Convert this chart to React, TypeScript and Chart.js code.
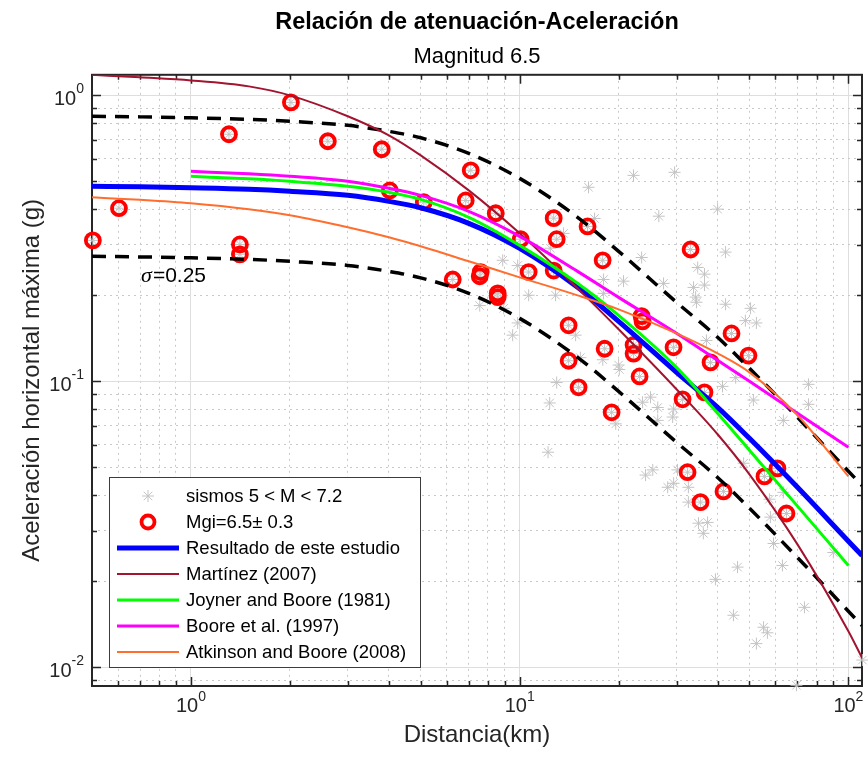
import React, { useEffect, useRef } from "react";
import { Chart, registerables } from "chart.js";

Chart.register(...registerables);

const FONT = "'Liberation Sans', Arial, Helvetica, sans-serif";
const AXIS_COLOR = "#262626";

// ---- Texts ----
const titleText = "Relación de atenuación-Aceleración";
const subtitleText = "Magnitud 6.5";
const xTitle = "Distancia(km)";
const yTitle = "Aceleración horizontal máxima (g)";
const sigmaLabel = "=0.25";
const legendLabels = [
  "sismos 5 < M < 7.2",
  "Mgi=6.5± 0.3",
  "Resultado de este estudio",
  "Martínez (2007)",
  "Joyner and Boore (1981)",
  "Boore et al. (1997)",
  "Atkinson and Boore (2008)",
];

// ---- Axes ----
const xMin = 0.5;
const xMax = 110;
const yMin = 0.0086;
const yMax = 1.18;
const xGridValues = [0.5, 0.6, 0.7, 0.8, 0.9, 1, 2, 3, 4, 5, 6, 7, 8, 9, 10, 20, 30, 40, 50, 60, 70, 80, 90, 100];
const yGridValues = [0.009, 0.01, 0.02, 0.03, 0.04, 0.05, 0.06, 0.07, 0.08, 0.09, 0.1, 0.2, 0.3, 0.4, 0.5, 0.6, 0.7, 0.8, 0.9, 1];
const xMajorTicks = [1, 10, 100];
const xMajorExponents = ["0", "1", "2"];
const yMajorTicks = [0.01, 0.1, 1];
const yMajorExponents = ["-2", "-1", "0"];
const tickBase = "10";

// ---- Scatter data: all earthquakes (sismos 5 < M < 7.2) ----
const sismosDist = [
  22.2, 29.6, 16.2, 16.9, 26.5, 40.0, 13.6, 12.4, 42.3, 23.5,
  8.88, 9.86, 18.0, 20.7, 27.4, 34.8, 36.5, 33.8, 36.5, 18.0,
  34.3, 34.5, 42.3, 50.4, 48.6, 52.5, 10.65, 12.86, 7.56, 8.94,
  9.86, 9.52, 14.8, 37.0, 15.3, 17.9, 20.0, 12.96, 12.34, 23.65,
  25.0, 26.3, 29.4, 26.3, 29.2, 19.6, 12.2, 24.15, 25.4, 28.2,
  29.4, 30.2, 32.6, 32.6, 35.0, 37.3, 36.2, 41.4, 45.4, 51.4,
  75.6, 75.6, 63.4, 48.0, 57.5, 63.4, 57.9, 59.2, 63.0, 90.0,
  46.0, 39.4, 44.7, 73.5, 55.2, 56.7, 52.5, 110.3, 69.5, 20.1,
];
const sismosPGA = [
  0.525, 0.538, 0.477, 0.371, 0.378, 0.4, 0.329, 0.292, 0.283, 0.271,
  0.265, 0.254, 0.227, 0.224, 0.22, 0.25, 0.237, 0.213, 0.217, 0.203,
  0.197, 0.189, 0.186, 0.18, 0.163, 0.16, 0.2, 0.2, 0.184, 0.18,
  0.16, 0.145, 0.145, 0.139, 0.121, 0.119, 0.114, 0.099, 0.084, 0.0845,
  0.088, 0.081, 0.08, 0.073, 0.075, 0.071, 0.0565, 0.047, 0.049, 0.0426,
  0.044, 0.049, 0.0426, 0.0378, 0.0319, 0.0321, 0.0294, 0.096, 0.103, 0.086,
  0.0976, 0.0831, 0.073, 0.0517, 0.0387, 0.0409, 0.0335, 0.0271, 0.0227, 0.0252,
  0.0224, 0.0203, 0.0152, 0.0162, 0.0138, 0.0132, 0.0121, 0.0106, 0.00865, 0.11,
];

// ---- Scatter data: Mgi = 6.5 ± 0.3 ----
const mgiDist = [
  0.503, 0.604, 1.305, 1.409, 1.409, 2.014, 2.609, 3.806, 4.026, 5.108,
  6.257, 6.853, 7.097, 7.611, 7.56, 8.455, 8.574, 8.574, 10.07, 10.65,
  12.69, 12.96, 12.69, 16.09, 17.88, 14.09, 14.09, 15.11, 18.13, 19.04,
  22.21, 22.21, 23.16, 23.49, 23.65, 29.38, 33.11, 31.3, 38.07, 36.49,
  32.41, 35.49, 41.69, 44.1, 49.66, 55.55, 60.84, 64.8,
];
const mgiPGA = [
  0.311, 0.403, 0.731, 0.301, 0.278, 0.945, 0.691, 0.648, 0.465, 0.423,
  0.227, 0.429, 0.547, 0.241, 0.233, 0.387, 0.203, 0.197, 0.314, 0.241,
  0.372, 0.314, 0.244, 0.348, 0.265, 0.157, 0.118, 0.0953, 0.13, 0.0779,
  0.134, 0.125, 0.104, 0.169, 0.162, 0.1315, 0.289, 0.0865, 0.1165, 0.0915,
  0.0481, 0.0378, 0.0412, 0.147, 0.123, 0.0465, 0.0496, 0.0345,
];

// ---- Attenuation curves ----
const distFull = [0.5, 0.7, 1, 1.5, 2, 3, 4, 5, 7, 10, 15, 20, 30, 40, 50, 70, 100, 110];
const resultadoPGA = [0.4807, 0.4786, 0.4749, 0.4692, 0.4617, 0.447, 0.4259, 0.4044, 0.3568, 0.2917, 0.2132, 0.1621, 0.1075, 0.0811, 0.0632, 0.0426, 0.0276, 0.0246];
const upperSigmaPGA = [0.8446, 0.8409, 0.8344, 0.8244, 0.8112, 0.7854, 0.7483, 0.7105, 0.6269, 0.5125, 0.3746, 0.2848, 0.1889, 0.1425, 0.111, 0.0748, 0.0485, 0.0432];
const lowerSigmaPGA = [0.2735, 0.2723, 0.2702, 0.267, 0.2627, 0.2543, 0.2423, 0.2301, 0.203, 0.166, 0.1213, 0.0922, 0.0612, 0.0461, 0.036, 0.0242, 0.0157, 0.014];
const martinezPGA = [1.18, 1.156, 1.128, 1.075, 1.0, 0.845, 0.7246, 0.6168, 0.4654, 0.3293, 0.2114, 0.152, 0.0938, 0.0653, 0.0473, 0.0269, 0.01336, 0.0108];

const dist1to100 = [1, 1.5, 2, 3, 4, 5, 7, 10, 15, 20, 30, 40, 50, 70, 100];
const joynerPGA = [0.5209, 0.5106, 0.5004, 0.4807, 0.458, 0.4328, 0.3745, 0.2988, 0.2202, 0.1701, 0.1119, 0.0773, 0.0574, 0.0366, 0.0227];
const boorePGA = [0.5423, 0.5314, 0.5209, 0.5004, 0.473, 0.447, 0.393, 0.3214, 0.2424, 0.1966, 0.1472, 0.1184, 0.1, 0.0773, 0.0588];

const distAtkinson = [0.5, 0.7, 1, 1.5, 2, 3, 4, 5, 7, 10, 15, 20, 30, 40, 50, 70, 100];
const atkinsonPGA = [0.4398, 0.4311, 0.4193, 0.3995, 0.3805, 0.3455, 0.3188, 0.2965, 0.2628, 0.231, 0.1998, 0.1785, 0.1472, 0.1253, 0.1075, 0.0761, 0.0465];

// annotation anchor for the sigma label (data coordinates)
const sigmaAnchor = { x: 0.705, y: 0.233 };

// ---- Styles ----
const COLORS = {
  star: "#c4c4c4",
  circle: "#ff0000",
  blue: "#0000ff",
  martinez: "#a2142f",
  joyner: "#00ff00",
  boore: "#ff00ff",
  atkinson: "#ff6e2e",
  sigma: "#000000",
};

const toPts = (xs: number[], ys: number[]) => xs.map((x, i) => ({ x, y: ys[i] }));
const isMajor = (v: number) => {
  const l = Math.log10(v);
  return Math.abs(l - Math.round(l)) < 1e-6;
};

const framePlugin = {
  id: "matlabFrame",
  beforeDatasetsDraw(chart: any) {
    const { ctx, chartArea, scales } = chart;
    const { left, right, top, bottom } = chartArea;
    const xs = scales.x;
    const ys = scales.y;
    ctx.save();
    ctx.strokeStyle = AXIS_COLOR;
    ctx.lineWidth = 1.5;
    ctx.beginPath();
    for (const v of xGridValues) {
      const px = Math.round(xs.getPixelForValue(v)) + 0.5;
      if (px < left + 2 || px > right - 2) continue;
      const len = isMajor(v) ? 9 : 5;
      ctx.moveTo(px, bottom);
      ctx.lineTo(px, bottom - len);
      ctx.moveTo(px, top);
      ctx.lineTo(px, top + len);
    }
    for (const v of yGridValues) {
      const py = Math.round(ys.getPixelForValue(v)) + 0.5;
      if (py < top + 2 || py > bottom - 2) continue;
      const len = isMajor(v) ? 9 : 5;
      ctx.moveTo(left, py);
      ctx.lineTo(left + len, py);
      ctx.moveTo(right, py);
      ctx.lineTo(right - len, py);
    }
    ctx.stroke();
    ctx.lineWidth = 2;
    ctx.strokeRect(left, top, right - left, bottom - top);
    ctx.restore();
  },
  afterDatasetsDraw(chart: any) {
    const { ctx, scales, chartArea } = chart;
    // sigma annotation
    const sx = scales.x.getPixelForValue(sigmaAnchor.x);
    const sy = scales.y.getPixelForValue(sigmaAnchor.y);
    ctx.save();
    ctx.fillStyle = COLORS.sigma;
    ctx.textBaseline = "middle";
    ctx.textAlign = "left";
    ctx.font = "italic 22px 'Liberation Serif', 'Times New Roman', serif";
    ctx.fillText("σ", sx, sy);
    const w = ctx.measureText("σ").width;
    ctx.font = `21px ${FONT}`;
    ctx.fillText(sigmaLabel, sx + w + 1, sy);

    // power-of-ten tick labels
    const baseFont = `20px ${FONT}`;
    const expFont = `14px ${FONT}`;
    ctx.fillStyle = AXIS_COLOR;
    xMajorTicks.forEach((v, i) => {
      const px = scales.x.getPixelForValue(v);
      ctx.font = baseFont;
      const wb = ctx.measureText(tickBase).width;
      ctx.font = expFont;
      const we = ctx.measureText(xMajorExponents[i]).width;
      const start = px - (wb + we) / 2;
      ctx.font = baseFont;
      ctx.fillText(tickBase, start, chartArea.bottom + 20);
      ctx.font = expFont;
      ctx.fillText(xMajorExponents[i], start + wb, chartArea.bottom + 11);
    });
    yMajorTicks.forEach((v, i) => {
      const py = scales.y.getPixelForValue(v);
      ctx.font = baseFont;
      const wb = ctx.measureText(tickBase).width;
      ctx.font = expFont;
      const we = ctx.measureText(yMajorExponents[i]).width;
      const start = chartArea.left - 8 - (wb + we);
      ctx.font = baseFont;
      ctx.fillText(tickBase, start, py + 4);
      ctx.font = expFont;
      ctx.fillText(yMajorExponents[i], start + wb, py - 6);
    });
    ctx.restore();
  },
};

const drawStar = (ctx: CanvasRenderingContext2D, x: number, y: number, r: number) => {
  ctx.beginPath();
  ctx.moveTo(x - r, y);
  ctx.lineTo(x + r, y);
  ctx.moveTo(x, y - r);
  ctx.lineTo(x, y + r);
  const d = r * 0.7071;
  ctx.moveTo(x - d, y - d);
  ctx.lineTo(x + d, y + d);
  ctx.moveTo(x - d, y + d);
  ctx.lineTo(x + d, y - d);
  ctx.stroke();
};

const legendPlugin = {
  id: "matlabLegend",
  afterDraw(chart: any) {
    const { ctx, chartArea } = chart;
    const bx = chartArea.left + 17;
    const bw = 311;
    const bh = 190;
    const by = chartArea.bottom - 19 - bh;
    ctx.save();
    ctx.fillStyle = "#ffffff";
    ctx.fillRect(bx, by, bw, bh);
    ctx.strokeStyle = "#3c3c3c";
    ctx.lineWidth = 1;
    ctx.strokeRect(bx + 0.5, by + 0.5, bw, bh);
    const rowH = 26;
    const x0 = bx + 8;
    const x1 = bx + 70;
    const xm = (x0 + x1) / 2;
    const tx = bx + 77;
    ctx.font = `18.5px ${FONT}`;
    ctx.textBaseline = "middle";
    ctx.textAlign = "left";
    const styles = [
      { kind: "star" },
      { kind: "circle" },
      { kind: "line", color: COLORS.blue, width: 5 },
      { kind: "line", color: COLORS.martinez, width: 2 },
      { kind: "line", color: COLORS.joyner, width: 3 },
      { kind: "line", color: COLORS.boore, width: 3 },
      { kind: "line", color: COLORS.atkinson, width: 2 },
    ];
    styles.forEach((st: any, i: number) => {
      const cy = by + 19 + i * rowH;
      if (st.kind === "star") {
        ctx.strokeStyle = COLORS.star;
        ctx.lineWidth = 1;
        drawStar(ctx, xm, cy, 6);
      } else if (st.kind === "circle") {
        ctx.strokeStyle = COLORS.circle;
        ctx.lineWidth = 3.8;
        ctx.beginPath();
        ctx.arc(xm, cy, 6.5, 0, Math.PI * 2);
        ctx.stroke();
      } else {
        ctx.strokeStyle = st.color;
        ctx.lineWidth = st.width;
        ctx.beginPath();
        ctx.moveTo(x0, cy);
        ctx.lineTo(x1, cy);
        ctx.stroke();
      }
      ctx.fillStyle = "#000000";
      ctx.fillText(legendLabels[i], tx, cy + 1);
    });
    ctx.restore();
  },
};

const gridColor = (c: any) => (c.tick && isMajor(c.tick.value) ? "#dedede" : "#c9c9c9");
const gridDash = (c: any) => (c.tick && !isMajor(c.tick.value) ? [2, 4] : []);

const lineDs = (label: string, xs: number[], ys: number[], color: string, width: number, order: number, extra: any = {}) => ({
  label,
  data: toPts(xs, ys),
  showLine: true,
  borderColor: color,
  backgroundColor: color,
  borderWidth: width,
  pointRadius: 0,
  pointHoverRadius: 0,
  fill: false,
  cubicInterpolationMode: "monotone",
  order,
  ...extra,
});

export default function App() {
  const ref = useRef<HTMLCanvasElement>(null);
  useEffect(() => {
    const canvas = ref.current;
    if (!canvas) return;
    const chart = new Chart(canvas, {
      type: "scatter",
      data: {
        datasets: [
          {
            label: legendLabels[0],
            data: [...toPts(sismosDist, sismosPGA), ...toPts(mgiDist, mgiPGA)],
            showLine: false,
            pointStyle: "star",
            pointRadius: 6,
            pointHoverRadius: 6,
            borderColor: COLORS.star,
            pointBorderColor: COLORS.star,
            pointBackgroundColor: "rgba(0,0,0,0)",
            pointBorderWidth: 1,
            clip: false,
            order: 20,
          } as any,
          {
            label: legendLabels[1],
            data: toPts(mgiDist, mgiPGA),
            showLine: false,
            pointStyle: "circle",
            pointRadius: 7,
            pointHoverRadius: 7,
            borderColor: COLORS.circle,
            pointBorderColor: COLORS.circle,
            pointBackgroundColor: "rgba(0,0,0,0)",
            pointBorderWidth: 3.8,
            clip: false,
            order: 19,
          } as any,
          lineDs(legendLabels[2], distFull, resultadoPGA, COLORS.blue, 5, 18),
          lineDs("+σ", distFull, upperSigmaPGA, COLORS.sigma, 3.5, 17, { borderDash: [14, 9] }),
          lineDs("-σ", distFull, lowerSigmaPGA, COLORS.sigma, 3.5, 16, { borderDash: [14, 9] }),
          lineDs(legendLabels[3], distFull, martinezPGA, COLORS.martinez, 2, 15),
          lineDs(legendLabels[4], dist1to100, joynerPGA, COLORS.joyner, 3, 14),
          lineDs(legendLabels[5], dist1to100, boorePGA, COLORS.boore, 3, 13),
          lineDs(legendLabels[6], distAtkinson, atkinsonPGA, COLORS.atkinson, 2, 12),
        ],
      },
      options: {
        responsive: false,
        animation: false,
        events: [],
        layout: { autoPadding: false, padding: { left: 0, right: 6, top: 0, bottom: 0 } },
        plugins: {
          legend: { display: false },
          tooltip: { enabled: false },
          title: {
            display: true,
            text: titleText,
            fullSize: false,
            color: "#000000",
            font: { family: FONT, size: 23.5, weight: "bold", lineHeight: 1.2 },
            padding: { top: 8, bottom: 3 },
          },
          subtitle: {
            display: true,
            text: subtitleText,
            fullSize: false,
            color: "#000000",
            font: { family: FONT, size: 22, weight: "normal", lineHeight: 1.2 },
            padding: { top: 5, bottom: 4.2 },
          },
        },
        scales: {
          x: {
            type: "logarithmic",
            min: xMin,
            max: xMax,
            afterBuildTicks: (s: any) => {
              s.ticks = xGridValues.map((v) => ({ value: v }));
            },
            afterFit: (s: any) => {
              s.height = 72;
              s.paddingLeft = 0;
              s.paddingRight = 0;
            },
            ticks: { display: false, autoSkip: false, maxRotation: 0 },
            grid: { drawTicks: false, color: gridColor, lineWidth: 1 },
            border: { display: false, dash: gridDash },
            title: {
              display: true,
              text: xTitle,
              color: AXIS_COLOR,
              font: { family: FONT, size: 24, lineHeight: 1.2 },
              padding: { top: 0, bottom: 8 },
            },
          },
          y: {
            type: "logarithmic",
            min: yMin,
            max: yMax,
            afterBuildTicks: (s: any) => {
              s.ticks = yGridValues.map((v) => ({ value: v }));
            },
            afterFit: (s: any) => {
              s.width = 92;
              s.paddingTop = 0;
              s.paddingBottom = 0;
            },
            ticks: { display: false, autoSkip: false },
            grid: { drawTicks: false, color: gridColor, lineWidth: 1 },
            border: { display: false, dash: gridDash },
            title: {
              display: true,
              text: yTitle,
              color: AXIS_COLOR,
              font: { family: FONT, size: 24, lineHeight: 1.2 },
              padding: { top: 18, bottom: 0 },
            },
          },
        },
      } as any,
      plugins: [framePlugin, legendPlugin],
    });
    return () => chart.destroy();
  }, []);
  return (
    <div style={{ position: "fixed", left: 0, top: 0, width: 868, height: 758, background: "#ffffff" }}>
      <canvas ref={ref} width={868} height={758} style={{ display: "block", width: 868, height: 758 }} />
    </div>
  );
}
